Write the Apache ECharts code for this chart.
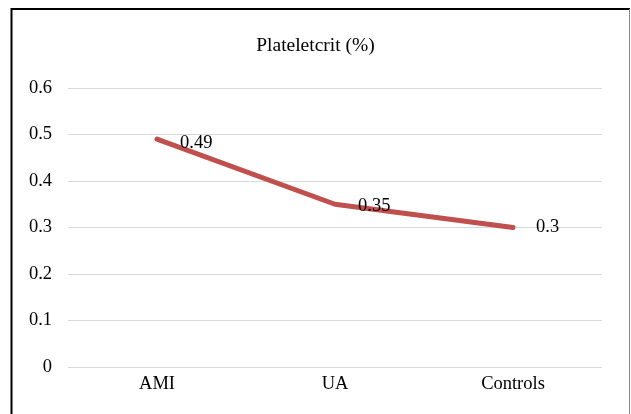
<!DOCTYPE html>
<html><head><meta charset="utf-8">
<script src="https://cdn.jsdelivr.net/npm/echarts@6/dist/echarts.min.js"></script>
<style>html,body{margin:0;padding:0;background:#fff}#c{width:631px;height:414px}</style>
</head><body><div id="c"></div>
<script>
var categories = ["AMI", "UA", "Controls"];
var values = [0.49, 0.35, 0.3];
var yTicks = [0, 0.1, 0.2, 0.3, 0.4, 0.5, 0.6];
var title = "Plateletcrit (%)";

var chart = echarts.init(document.getElementById('c'), null, {renderer: 'canvas'});
var font = '"Liberation Serif", "Times New Roman", serif';
chart.setOption({
  animation: false,
  backgroundColor: '#fff',
  title: {text: title, left: 'center', top: 31, textStyle: {fontFamily: font, fontSize: 19.5, fontWeight: 'normal', color: '#000'}},
  graphic: [
    {type: 'line', shape: {x1: 11.5, y1: 8, x2: 11.5, y2: 414}, style: {stroke: '#000', lineWidth: 2}},
    {type: 'line', shape: {x1: 11, y1: 9, x2: 630, y2: 9}, style: {stroke: '#000', lineWidth: 2}},
    {type: 'line', shape: {x1: 629.5, y1: 9, x2: 629.5, y2: 414}, style: {stroke: '#888', lineWidth: 1}}
  ],
  grid: {left: 68, right: 29, top: 88, bottom: 47},
  xAxis: {
    type: 'category', data: categories, boundaryGap: true,
    axisLine: {show: false}, axisTick: {show: false},
    axisLabel: {fontFamily: font, fontSize: 18.5, color: '#000', margin: 8}
  },
  yAxis: {
    type: 'value', min: 0, max: 0.6, interval: 0.1,
    axisLine: {show: false}, axisTick: {show: false},
    axisLabel: {fontFamily: font, fontSize: 18.5, color: '#000', margin: 16,
      formatter: function (v) { var t = yTicks.find(function (x) { return Math.abs(x - v) < 1e-9; }); return t === undefined ? '' : String(t); }},
    splitLine: {lineStyle: {color: '#d9d9d9', width: 1}}
  },
  series: [{
    type: 'line', data: values.map(function (v, i) {
      return i === 0 ? {value: v, label: {offset: [0, 4]}} : (i === 1 ? {value: v, label: {offset: [0, 2]}} : v);
    }),
    symbol: 'circle', symbolSize: 0.1, showSymbol: true,
    lineStyle: {color: '#C0504D', width: 5, cap: 'round', join: 'round'},
    itemStyle: {color: '#C0504D'},
    label: {show: true, position: 'right', distance: 23, fontFamily: font, fontSize: 18.5, color: '#000'}
  }]
});
</script></body></html>
